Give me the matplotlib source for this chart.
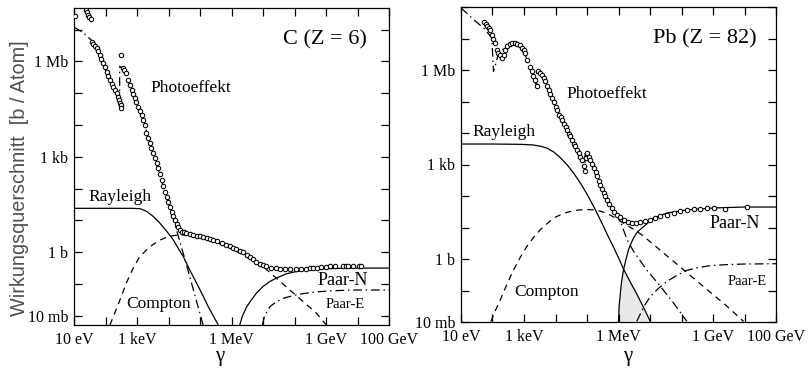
import numpy as np
import matplotlib
matplotlib.use("Agg")
import matplotlib.pyplot as plt

# ---- values: log10(E / eV), log10(sigma / b) ----

# Carbon, total (measured points)
c_data_logE = [1.03, 1.38, 1.42, 1.45, 1.49, 1.53,
               1.56, 1.61, 1.66, 1.72, 1.77, 1.82, 1.87, 1.93, 1.98, 2.04, 2.09, 2.14,
               2.20, 2.25, 2.30, 2.36, 2.41, 2.44, 2.46, 2.48, 2.49,
               2.49, 2.56, 2.60, 2.64, 2.72, 2.78, 2.83, 2.88, 2.93, 2.98, 3.04, 3.10,
               3.15, 3.20, 3.25, 3.30, 3.36, 3.41, 3.46, 3.52, 3.57, 3.62, 3.67, 3.73,
               3.78, 3.84, 3.89, 3.94, 3.99, 4.05, 4.10, 4.15, 4.20, 4.26, 4.31, 4.37,
               4.42, 4.50, 4.57, 4.68, 4.78, 4.90, 5.00, 5.10, 5.22, 5.32, 5.42, 5.55,
               5.70, 5.84, 5.95, 6.05, 6.15, 6.26, 6.38, 6.48, 6.58, 6.68, 6.79, 6.90,
               7.00, 7.11, 7.25, 7.40, 7.53, 7.70, 7.85, 8.06, 8.20, 8.35, 8.50, 8.59,
               8.70, 8.85, 9.00, 9.12, 9.30, 9.54, 9.62, 9.70, 9.86, 10.05, 10.12]
c_data_logS = [7.43, 7.62, 7.55, 7.46, 7.40, 7.34,
               6.62, 6.55, 6.50, 6.42, 6.32, 6.20, 6.08, 5.95, 5.82, 5.67, 5.55, 5.42,
               5.30, 5.20, 5.10, 5.01, 4.88, 4.78, 4.70, 4.62, 4.54,
               6.20, 5.79, 5.72, 5.62, 5.42, 5.25, 5.10, 4.98, 4.85, 4.72, 4.57, 4.45,
               4.32, 4.16, 4.00, 3.75, 3.59, 3.43, 3.28, 3.12, 2.97, 2.81, 2.65, 2.46,
               2.27, 2.08, 1.90, 1.74, 1.58, 1.42, 1.27, 1.14, 1.02, 0.90, 0.80, 0.71,
               0.64, 0.62, 0.61, 0.57, 0.54, 0.52, 0.50, 0.48, 0.45, 0.42, 0.39, 0.35,
               0.29, 0.23, 0.18, 0.135, 0.10, 0.05, 0.0, -0.08, -0.15, -0.22, -0.30, -0.36,
               -0.41, -0.45, -0.49, -0.51, -0.525, -0.53, -0.535, -0.535, -0.53, -0.52, -0.51, -0.50,
               -0.49, -0.47, -0.46, -0.45, -0.44, -0.43, -0.43, -0.43, -0.42, -0.42, -0.42]

c_photo_logE = [1.0, 1.3, 1.56, 1.8, 2.04, 2.25, 2.45, 2.45, 2.6, 2.83, 3.04, 3.25,
                3.46, 3.67, 3.89, 4.1, 4.2, 4.4, 4.6, 4.85, 5.1]
c_photo_logS = [7.08, 6.9, 6.66, 6.22, 5.65, 5.18, 4.72, 5.85, 5.72, 5.08, 4.55, 3.98,
                3.27, 2.62, 1.88, 1.24, 0.88, 0.2, -0.5, -1.4, -2.29]

c_ray_logE = [1.0, 2.0, 2.8, 3.09, 3.2, 3.31, 3.52, 3.73, 3.94, 4.15, 4.31, 4.47,
              4.68, 4.89, 5.08, 5.26, 5.42, 5.58]
c_ray_logS = [1.38, 1.38, 1.38, 1.37, 1.33, 1.28, 1.12, 0.91, 0.66, 0.39, 0.12, -0.14,
              -0.57, -0.97, -1.34, -1.71, -2.0, -2.29]

c_compton_logE = [2.14, 2.3, 2.46, 2.67, 2.88, 3.08, 3.3, 3.52, 3.73, 3.94, 4.15, 4.36,
                  4.6, 5.0, 5.4, 5.8, 6.2, 6.6, 7.0, 7.43, 7.85, 8.27, 8.70, 9.01]
c_compton_logS = [-2.29, -1.9, -1.50, -0.95, -0.50, -0.15, 0.07, 0.25, 0.38, 0.47, 0.52, 0.55,
                  0.53, 0.46, 0.35, 0.2, 0.0, -0.22, -0.45, -0.82, -1.19, -1.55, -1.92, -2.29]

c_pairN_logE = [6.26, 6.35, 6.48, 6.63, 6.79, 7.0, 7.22, 7.48, 7.74, 8.0, 8.27, 8.55,
                8.80, 9.3, 10.0, 11.0]
c_pairN_logS = [-2.29, -2.0, -1.72, -1.50, -1.29, -1.08, -0.92, -0.79, -0.68, -0.62, -0.58, -0.545,
                -0.525, -0.51, -0.50, -0.50]

c_pairE_logE = [6.98, 7.05, 7.22, 7.43, 7.64, 7.9, 8.17, 8.5, 8.80, 9.3, 9.86, 11.0]
c_pairE_logS = [-2.29, -2.0, -1.71, -1.56, -1.45, -1.38, -1.32, -1.27, -1.24, -1.21, -1.19, -1.19]

# Lead, total (measured points)
pb_data_logE = [1.72, 1.78, 1.83, 1.88, 1.93, 1.98, 2.03, 2.09, 2.14, 2.19, 2.23, 2.30,
                2.35, 2.41, 2.46, 2.54, 2.62, 2.70, 2.78, 2.86, 2.94, 3.00, 3.04, 3.11,
                3.18, 3.25, 3.30, 3.36, 3.41, 3.46, 3.52, 3.57, 3.62, 3.68, 3.73, 3.78,
                3.84, 3.89, 3.94, 4.00, 4.05, 4.10, 4.16, 4.21, 4.26, 4.32, 4.37, 4.42,
                4.47, 4.52, 4.58, 4.63, 4.68, 4.74, 4.79, 4.84, 4.90, 4.95, 4.98, 5.00,
                5.05, 5.10, 5.16, 5.21, 5.27, 5.32, 5.37, 5.42, 5.48, 5.53, 5.58, 5.63,
                5.70, 5.79, 5.87, 5.95, 6.05, 6.16, 6.30, 6.43, 6.55, 6.69, 6.85, 7.01,
                7.17, 7.33, 7.55, 7.75, 7.95, 8.17, 8.40, 8.60, 8.80, 9.02, 9.38, 10.07]
pb_data_logS = [7.51, 7.46, 7.41, 7.34, 7.28, 7.12, 6.98, 6.86, 6.64, 6.55, 6.49, 6.38,
                6.49, 6.65, 6.75, 6.82, 6.86, 6.87, 6.84, 6.78, 6.70, 6.62, 6.54, 6.33,
                6.11, 5.96, 5.82, 5.69, 5.48, 5.96, 5.92, 5.85, 5.75, 5.64, 5.50, 5.37,
                5.24, 5.11, 4.98, 4.84, 4.74, 4.58, 4.50, 4.42, 4.28, 4.20, 4.10, 3.98,
                3.90, 3.79, 3.66, 3.58, 3.47, 3.35, 3.25, 3.15, 2.95, 2.78, 3.20, 3.37,
                3.25, 3.15, 3.02, 2.89, 2.75, 2.62, 2.49, 2.36, 2.22, 2.10, 1.99, 1.88,
                1.75, 1.62, 1.50, 1.41, 1.32, 1.25, 1.18, 1.14, 1.15, 1.19, 1.22, 1.25,
                1.30, 1.35, 1.41, 1.46, 1.52, 1.56, 1.58, 1.59, 1.61, 1.62, 1.59, 1.65]

pb_photo_logE = [1.0, 1.4, 1.72, 1.98, 2.03, 2.12, 2.19, 2.41, 2.65, 2.88, 3.1, 3.25,
                 3.41, 3.41, 3.6, 3.8, 4.0, 4.21, 4.42, 4.63, 4.84, 4.94, 4.94, 5.1,
                 5.32, 5.53, 5.7, 5.85, 5.95, 6.06, 6.27, 6.48, 6.9, 7.33, 7.75, 8.17]
pb_photo_logS = [7.97, 7.6, 7.33, 7.02, 5.95, 6.25, 6.55, 6.72, 6.8, 6.72, 6.35, 5.95,
                 5.45, 5.92, 5.78, 5.32, 4.84, 4.42, 3.98, 3.58, 3.15, 2.82, 3.35, 3.12,
                 2.6, 2.08, 1.74, 1.5, 1.36, 1.2, 0.62, 0.24, -0.35, -0.87, -1.4, -1.98]

pb_ray_logE = [1.0, 2.0, 2.88, 3.3, 3.52, 3.73, 3.94, 4.15, 4.37, 4.58, 4.79, 5.0,
               5.21, 5.37, 5.53, 5.7, 5.84, 6.0, 6.16, 6.4, 6.6, 6.8, 7.01]
pb_ray_logS = [3.65, 3.65, 3.64, 3.62, 3.58, 3.52, 3.40, 3.22, 2.99, 2.72, 2.41, 2.06,
               1.67, 1.35, 1.02, 0.66, 0.38, 0.04, -0.32, -0.78, -1.15, -1.55, -1.98]

pb_compton_logE = [1.95, 2.1, 2.25, 2.46, 2.67, 2.88, 3.09, 3.3, 3.52, 3.73, 3.94, 4.15,
                   4.36, 4.57, 4.78, 5.0, 5.21, 5.42, 5.63, 5.85, 6.06, 6.3, 6.55, 6.8,
                   7.3, 7.8, 8.3, 8.8, 9.4, 9.97]
pb_compton_logS = [-1.98, -1.62, -1.29, -0.80, -0.34, 0.05, 0.40, 0.68, 0.93, 1.12, 1.30, 1.40,
                   1.48, 1.53, 1.56, 1.57, 1.56, 1.52, 1.45, 1.33, 1.2, 1.05, 0.9, 0.72,
                   0.3, -0.12, -0.54, -0.96, -1.46, -1.98]

pb_pairN_logE = [6.0, 6.02, 6.06, 6.1, 6.16, 6.24, 6.32, 6.4, 6.48, 6.6, 6.8, 7.11,
                 7.54, 8.17, 9.02, 10.0, 11.0]
pb_pairN_logS = [-1.98, -1.5, -1.08, -0.7, -0.34, 0.0, 0.30, 0.5, 0.67, 0.86, 1.03, 1.30,
                 1.46, 1.56, 1.62, 1.65, 1.65]

pb_pairE_logE = [6.58, 6.8, 7.01, 7.27, 7.54, 7.85, 8.17, 8.5, 8.91, 9.4, 9.97, 11.0]
pb_pairE_logS = [-1.98, -1.52, -1.19, -0.93, -0.71, -0.52, -0.36, -0.28, -0.21, -0.18, -0.16, -0.15]

# tick labels
x_tick_logE = [1, 3, 6, 9, 11]
x_tick_text = ["10 eV", "1 keV", "1 MeV", "1 GeV", "100 GeV"]
y_tick_logS = [-2, 0, 3, 6]
y_tick_text = ["10 mb", "1 b", "1 kb", "1 Mb"]

SERIF = ["Liberation Serif", "DejaVu Serif"]
DASHED = (0, (5, 4))
DASHDOT = (0, (7, 3, 1.2, 3))


def p(v):
    return 10.0 ** np.asarray(v)


def setup_axes(ax, ylog_lim, gamma_xy):
    ax.set_xscale("log")
    ax.set_yscale("log")
    ax.set_xlim(p(1), p(11))
    ax.set_ylim(p(ylog_lim[0]), p(ylog_lim[1]))

    xt = np.arange(1, 12)
    ax.set_xticks(p(xt))
    ax.set_xticklabels([x_tick_text[x_tick_logE.index(t)] if t in x_tick_logE else ""
                        for t in xt])
    yt = np.arange(-2, 9)
    yt = yt[(yt >= ylog_lim[0] - 0.01) & (yt <= ylog_lim[1])]
    ax.set_yticks(p(yt))
    ax.set_yticklabels([y_tick_text[y_tick_logS.index(t)] if t in y_tick_logS else ""
                        for t in yt])
    ax.minorticks_off()
    ax.tick_params(which="major", direction="in", length=6, width=0.9,
                   top=True, right=True, labelsize=11.5, pad=4)
    ax.tick_params(axis="x", pad=5)
    for lab in ax.get_xticklabels() + ax.get_yticklabels():
        lab.set_fontfamily(SERIF)
    for s in ax.spines.values():
        s.set_linewidth(0.9)
    ax.set_xlabel("γ", fontsize=15, family=SERIF)
    ax.xaxis.set_label_coords(*gamma_xy)


def draw_curves(ax, photo, ray, compton, pairN, pairE, data):
    kw = dict(color="black", lw=0.9)
    ax.plot(p(photo[0]), p(photo[1]), ls=DASHDOT, **kw)
    ax.plot(p(ray[0]), p(ray[1]), ls="-", **kw)
    ax.plot(p(compton[0]), p(compton[1]), ls=DASHED, **kw)
    ax.plot(p(pairN[0]), p(pairN[1]), ls="-", **kw)
    ax.plot(p(pairE[0]), p(pairE[1]), ls=DASHDOT, **kw)
    ax.plot(p(data[0]), p(data[1]), ls="none", marker="o", ms=3.2,
            mfc="white", mec="black", mew=0.75, zorder=5)


fig = plt.figure(figsize=(8.08, 3.8), dpi=100)
ax1 = fig.add_axes([74 / 808, 55 / 380, 315 / 808, 317 / 380])
ax2 = fig.add_axes([461 / 808, 58 / 380, 315 / 808, 315 / 380])

# ---- Carbon ----
setup_axes(ax1, (-2.29, 7.68), (0.463, -0.07))
draw_curves(ax1, (c_photo_logE, c_photo_logS), (c_ray_logE, c_ray_logS),
            (c_compton_logE, c_compton_logS), (c_pairN_logE, c_pairN_logS),
            (c_pairE_logE, c_pairE_logS), (c_data_logE, c_data_logS))
fig.text(20 / 808, 1 - 178 / 380, "Wirkungsquerschnitt  [b / Atom]", fontsize=14.3,
         family=["Liberation Sans", "DejaVu Sans"], color="#505050",
         rotation=90, ha="center", va="center")

t = dict(transform=ax1.transAxes, family=SERIF, ha="center", va="center")
ax1.text(0.93, 0.90, "C (Z = 6)", fontsize=16, **dict(t, ha="right"))
ax1.text(0.37, 0.748, "Photoeffekt", fontsize=12.5, **t)
ax1.text(0.146, 0.404, "Rayleigh", fontsize=12.5, **t)
ax1.text(0.267, 0.066, "Compton", fontsize=12.5, **t)
ax1.text(0.854, 0.139, "Paar-N", fontsize=13, **t)
ax1.text(0.86, 0.066, "Paar-E", fontsize=10.5, **t)

# ---- Lead ----
setup_axes(ax2, (-2.0, 8.0), (0.53, -0.08))
# shaded area under Paar-N / Rayleigh near threshold
nE, nS = np.array(pb_pairN_logE), np.array(pb_pairN_logS)
rE, rS = np.array(pb_ray_logE), np.array(pb_ray_logS)
cross = 6.16
polyE = np.concatenate([nE[nE <= cross], rE[rE > cross]])
polyS = np.concatenate([nS[nE <= cross], rS[rE > cross]])
ax2.fill(p(np.r_[polyE, polyE[-1]]), p(np.r_[polyS, -2.0]), color="#e9e9e9", lw=0)
draw_curves(ax2, (pb_photo_logE, pb_photo_logS), (pb_ray_logE, pb_ray_logS),
            (pb_compton_logE, pb_compton_logS), (pb_pairN_logE, pb_pairN_logS),
            (pb_pairE_logE, pb_pairE_logS), (pb_data_logE, pb_data_logS))

t = dict(transform=ax2.transAxes, family=SERIF, ha="center", va="center")
ax2.text(0.94, 0.90, "Pb (Z = 82)", fontsize=16, **dict(t, ha="right"))
ax2.text(0.464, 0.724, "Photoeffekt", fontsize=12.5, **t)
ax2.text(0.137, 0.603, "Rayleigh", fontsize=12.5, **t)
ax2.text(0.273, 0.095, "Compton", fontsize=12.5, **t)
ax2.text(0.87, 0.314, "Paar-N", fontsize=13, **t)
ax2.text(0.908, 0.13, "Paar-E", fontsize=10.5, **t)

fig.savefig("out.png", dpi=100)
